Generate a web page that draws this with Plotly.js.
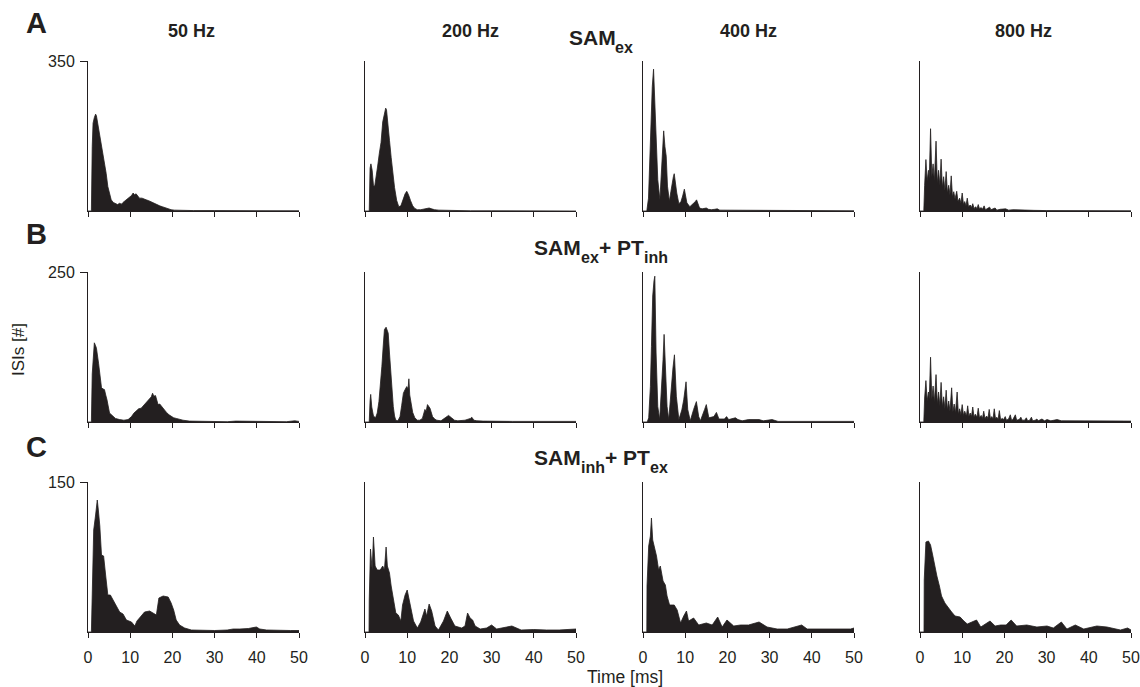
<!DOCTYPE html>
<html>
<head>
<meta charset="utf-8">
<script src="https://cdn.plot.ly/plotly-3.0.1.min.js"></script>
<style>html,body{margin:0;padding:0;background:#fff;}#chart{width:1140px;height:687px;}</style>
</head>
<body>
<div id="chart"></div>
<script>
// ---- data (ISI histograms, time in ms, counts) ----
const colTitles = ["50 Hz", "200 Hz", "400 Hz", "800 Hz"];
// row condition titles as [text, isSubscript] pieces
const rowTitles = [
  [["SAM", false], ["ex", true]],
  [["SAM", false], ["ex", true], ["+ PT", false], ["inh", true]],
  [["SAM", false], ["inh", true], ["+ PT", false], ["ex", true]]
];
const rowLetters = ["A", "B", "C"];
const rowMax = [350, 250, 150];
const xTicks = [0, 10, 20, 30, 40, 50];

const t_A50 = [0, 0.8, 1.0, 1.2, 1.5, 1.8, 2.0, 2.3, 2.8, 3.3, 3.9, 4.3, 4.7, 5.1, 5.5, 6.0, 6.5, 7.0, 7.5, 7.9, 8.3, 8.7, 9.2, 9.6, 9.9, 10.3, 10.7, 11.0, 11.4, 11.8, 12.2, 12.8, 13.3, 13.8, 14.4, 15.0, 15.4, 16.0, 16.5, 17.0, 17.6, 18.1, 18.6, 19.2, 19.7, 20.5, 22, 25, 30, 35, 40, 45, 50];
const n_A50 = [0, 0, 150, 205, 218, 226, 222, 205, 182, 150, 120, 88, 57, 38, 26, 20, 17, 15, 18, 16, 20, 23, 28, 32, 34, 36, 42, 38, 40, 35, 30, 30, 27, 26, 24, 21, 19, 17, 15, 12, 10, 8, 7, 5, 3, 2, 1.5, 1, 1, 0.5, 0.5, 0.5, 0.5];

const t_A200 = [0, 1.0, 1.2, 1.4, 1.7, 2.0, 2.3, 2.6, 3.0, 3.4, 3.8, 4.2, 4.6, 4.9, 5.1, 5.4, 5.8, 6.2, 6.6, 7.0, 7.5, 8.0, 8.5, 9.0, 9.5, 9.9, 10.3, 10.8, 11.3, 11.8, 12.4, 13.2, 14.0, 14.6, 15.2, 15.8, 16.5, 17.5, 19, 21, 23, 25, 30, 35, 40, 50];
const n_A200 = [0, 0, 100, 110, 95, 60, 58, 75, 105, 135, 160, 208, 225, 240, 236, 210, 165, 125, 85, 55, 25, 10, 12, 28, 40, 46, 38, 24, 12, 6, 3, 3, 5, 7, 7, 5, 3, 2, 1.5, 1, 1, 0.5, 0.5, 0, 0, 0];

const t_A400 = [0, 0.9, 1.3, 1.6, 1.9, 2.2, 2.5, 2.8, 3.2, 3.5, 4.0, 4.35, 4.6, 4.9, 5.2, 5.5, 5.8, 6.25, 6.6, 6.9, 7.2, 7.4, 7.7, 8.0, 8.5, 9.0, 9.4, 9.8, 10.1, 10.4, 11.1, 11.6, 12.0, 12.4, 12.7, 13.0, 13.4, 14.0, 14.6, 15.0, 15.5, 16.2, 17.0, 17.6, 18.2, 19.5, 20.5, 22, 25, 30, 35, 40, 45, 50];
const n_A400 = [0, 0, 30, 120, 197, 290, 331, 260, 166, 73, 26, 89, 140, 187, 150, 128, 58, 23, 45, 70, 80, 87, 60, 42, 17, 22, 35, 51, 35, 19, 10, 14, 17, 22, 26, 18, 7, 5, 6, 7, 4, 3, 4, 5, 2, 2, 2, 1, 1, 1, 0.5, 0.5, 0.5, 0.5];

const t_A800 = [0, 0.9, 1.1, 1.4, 1.7, 2.0, 2.2, 2.5, 2.8, 3.1, 3.4, 3.8, 4.1, 4.4, 4.7, 5.0, 5.3, 5.6, 5.9, 6.2, 6.5, 6.8, 7.1, 7.4, 7.7, 8.0, 8.3, 8.7, 9.0, 9.4, 9.7, 10.0, 10.3, 10.6, 10.9, 11.2, 11.5, 11.9, 12.2, 12.5, 12.8, 13.2, 13.5, 13.8, 14.1, 14.5, 14.8, 15.2, 15.5, 16.0, 16.5, 16.8, 17.3, 17.8, 18.2, 19.0, 20.3, 21.0, 22.0, 24.0, 27.0, 30.0, 35.0, 40.0, 45.0, 50.0];
const n_A800 = [0, 0, 60, 120, 70, 95, 75, 192, 80, 110, 70, 163, 65, 95, 60, 121, 55, 80, 48, 92, 42, 60, 38, 82, 33, 45, 28, 46, 22, 30, 18, 42, 15, 22, 12, 30, 10, 14, 8, 17, 6, 10, 5, 15, 5, 8, 4, 12, 3, 6, 9, 3, 5, 7, 2, 4, 5, 2, 3, 2, 1.5, 1, 0.8, 0.8, 0.5, 0.5];

const t_B50 = [0, 0.8, 1.0, 1.3, 1.5, 1.8, 2.0, 2.5, 2.9, 3.2, 3.6, 3.9, 4.2, 4.5, 5.1, 5.9, 6.5, 7.5, 8.5, 9.5, 10.3, 10.9, 11.5, 12.0, 12.6, 13.2, 13.8, 14.3, 14.6, 15.0, 15.3, 15.6, 16.0, 16.3, 16.6, 17.0, 17.4, 18.0, 18.6, 19.2, 19.7, 20.3, 20.9, 22.5, 24, 28, 33, 35, 37, 40, 42, 47, 49, 50];
const n_B50 = [0, 0, 80, 128, 132, 127, 123, 98, 75, 57, 55, 54, 45, 37, 15, 9, 6, 4, 3, 4, 9, 15, 19, 22, 23, 28, 32, 38, 40, 42, 48, 43, 44, 38, 29, 30, 26, 20, 16, 12, 9, 7, 6, 3, 1.5, 1, 0.5, 1.5, 1.5, 1, 0.5, 0.5, 2, 1];

const t_B200 = [0, 1.0, 1.2, 1.35, 1.6, 2.0, 2.5, 2.9, 3.3, 3.7, 4.0, 4.3, 4.6, 5.0, 5.5, 5.8, 6.1, 6.4, 6.7, 7.0, 7.3, 7.8, 8.3, 8.7, 9.1, 9.5, 9.9, 10.2, 10.4, 10.6, 10.9, 11.3, 11.8, 12.4, 13.0, 13.6, 14.2, 14.5, 14.8, 15.1, 15.4, 16.0, 16.5, 17.0, 18.0, 19.0, 19.8, 20.5, 21.2, 22.0, 23.7, 25.0, 25.3, 25.8, 26.5, 28, 30, 35, 40, 45, 50];
const n_B200 = [0, 0, 35, 46, 25, 10, 7, 15, 34, 62, 93, 125, 154, 158, 148, 115, 82, 55, 26, 10, 3, 2, 9, 28, 48, 54, 59, 55, 72, 45, 29, 16, 7, 3, 3, 6, 21, 18, 29, 25, 23, 9, 5, 3, 2, 7, 11, 7, 3, 2, 3, 6, 8, 3, 2, 1.5, 1, 1, 1, 1, 1];

const t_B400 = [0, 1.0, 1.35, 1.75, 2.0, 2.3, 2.6, 2.8, 3.1, 3.5, 3.95, 4.35, 4.75, 5.0, 5.3, 5.7, 6.1, 6.65, 7.1, 7.45, 7.9, 8.5, 9.2, 9.65, 10.2, 10.6, 11.2, 12.0, 12.65, 13.2, 13.6, 14.6, 15.0, 15.6, 16.8, 17.4, 18.0, 19.3, 19.8, 20.3, 21.9, 22.5, 23.5, 25, 27.5, 28.5, 30.6, 32, 35, 40, 45, 50];
const n_B400 = [0, 0, 7, 59, 126, 210, 235, 243, 115, 26, 4, 48, 104, 146, 104, 26, 4, 59, 90, 112, 43, 4, 20, 37, 67, 21, 2, 21, 34, 9, 2, 21, 29, 7, 9, 16, 5, 5, 9, 4, 7, 4, 2, 4, 4, 2, 4, 1, 1, 1, 1, 1];

const t_B800 = [0, 0.9, 1.1, 1.4, 1.7, 2.0, 2.2, 2.5, 2.8, 3.1, 3.4, 3.8, 4.1, 4.4, 4.7, 5.0, 5.3, 5.6, 5.9, 6.2, 6.5, 6.8, 7.1, 7.5, 7.8, 8.1, 8.4, 8.8, 9.1, 9.4, 9.7, 10.0, 10.3, 10.6, 11.0, 11.3, 11.6, 11.9, 12.2, 12.5, 12.8, 13.1, 13.5, 13.8, 14.1, 14.5, 14.8, 15.1, 15.4, 15.8, 16.1, 16.4, 16.7, 17.0, 17.3, 17.6, 17.9, 18.2, 18.5, 18.8, 19.1, 19.5, 19.8, 20.2, 20.5, 21.0, 21.4, 21.7, 22.0, 22.6, 22.9, 23.5, 23.9, 24.2, 24.8, 25.2, 25.5, 26.0, 26.4, 26.7, 27.3, 27.7, 28.0, 28.9, 29.5, 30.1, 31, 32.5, 33.5, 35, 37, 40, 42, 45, 48, 50];
const n_B800 = [0, 0, 40, 69, 35, 50, 38, 108, 38, 60, 33, 79, 30, 50, 27, 66, 25, 42, 22, 53, 20, 35, 18, 57, 17, 30, 15, 50, 13, 22, 12, 29, 11, 18, 10, 27, 9, 15, 9, 25, 8, 13, 8, 23, 7, 11, 6, 18, 6, 10, 6, 21, 5, 9, 5, 22, 5, 8, 4, 19, 4, 6, 4, 9, 3, 5, 12, 3, 4, 12, 3, 4, 8, 3, 3, 7, 2, 3, 8, 2, 3, 5, 2, 5, 2, 4, 2, 4, 2, 2, 2.5, 2, 2, 1.5, 2, 1.5];

const t_C50 = [0, 0.8, 1.0, 1.35, 1.8, 2.2, 2.45, 2.8, 3.2, 3.7, 4.2, 4.7, 5.3, 5.9, 6.7, 7.5, 8.3, 9.1, 10.3, 11.1, 11.6, 12.2, 13.4, 14.6, 15.6, 16.2, 16.8, 17.8, 19.0, 19.7, 20.3, 20.9, 21.7, 22.9, 24.5, 27, 30, 33, 34.4, 36, 38, 39.9, 40.7, 42.3, 45, 48, 50];
const n_C50 = [0, 0, 37, 102, 117, 132, 122, 106, 77, 76, 56, 37, 37, 32, 26, 20, 18, 12, 10, 6, 11, 14, 20, 21, 19, 17, 34, 36, 35, 29, 22, 12, 7, 4, 2, 1.5, 1.5, 2, 3, 3, 3.5, 5, 3, 2, 1.5, 1.5, 1.5];

const t_C200 = [0, 0.95, 1.0, 1.3, 1.7, 2.0, 2.4, 2.9, 3.6, 4.2, 4.6, 5.0, 5.3, 5.8, 6.2, 6.7, 7.3, 7.9, 8.5, 8.9, 9.5, 10.0, 10.7, 11.5, 12.4, 13.2, 14.2, 14.6, 15.2, 15.8, 16.6, 17.4, 18.6, 19.5, 20.3, 21.3, 22.9, 23.7, 24.3, 24.9, 25.5, 26.1, 27.3, 28.8, 30.0, 31.2, 33.6, 34.8, 37, 40, 43, 46, 50];
const n_C200 = [0, 0, 32, 83, 62, 95, 66, 62, 62, 66, 62, 85, 66, 59, 46, 32, 19, 17, 11, 27, 37, 42, 29, 11, 4, 10, 23, 16, 28, 21, 6, 2, 11, 21, 14, 6, 4, 6, 19, 14, 12, 6, 3, 4, 7, 3, 5, 6, 2, 2.5, 2, 2, 3];

const t_C400 = [0, 0.9, 0.95, 1.35, 1.75, 2.0, 2.3, 2.7, 3.2, 3.7, 4.1, 4.75, 5.3, 5.7, 6.3, 6.9, 7.4, 8.1, 8.9, 9.65, 10.3, 10.8, 12.0, 13.2, 15.0, 16.4, 17.7, 18.75, 19.9, 21.5, 23.1, 25.0, 27.5, 29.4, 31.8, 34.2, 37.6, 38.9, 42, 45.2, 49.2, 50];
const n_C400 = [0, 0, 46, 86, 96, 114, 92, 86, 76, 62, 66, 51, 47, 36, 27, 27, 27, 22, 9, 16, 21, 11, 14, 7, 9, 7, 15, 5, 12, 6, 7, 7, 10, 5, 3, 3, 7, 3, 3, 3, 3, 4];

const t_C800 = [0, 0.95, 1.0, 1.4, 2.0, 2.5, 3.0, 3.6, 4.0, 4.6, 5.1, 5.9, 6.7, 7.5, 8.3, 9.5, 10.4, 11.2, 12.3, 13.4, 14.4, 15.7, 16.6, 17.8, 19.1, 20.4, 21.6, 22.9, 25.3, 27.7, 30.1, 31.6, 33.5, 34.8, 36.8, 38.8, 41.9, 44.3, 47.5, 49.2, 50];
const n_C800 = [0, 0, 52, 90, 91, 87, 77, 62, 56, 46, 36, 29, 24, 20, 16, 15, 11, 8, 10, 12, 5, 9, 11, 6, 7, 7, 12, 6, 7, 5, 6, 4, 10, 3, 7, 3, 6, 5, 2, 4, 2];

const panels = [
  [[t_A50, n_A50], [t_A200, n_A200], [t_A400, n_A400], [t_A800, n_A800]],
  [[t_B50, n_B50], [t_B200, n_B200], [t_B400, n_B400], [t_B800, n_B800]],
  [[t_C50, n_C50], [t_C200, n_C200], [t_C400, n_C400], [t_C800, n_C800]]
];

// ---- layout geometry (pixels) ----
const W = 1140, H = 687;
const colLeft = [88, 365, 643, 920];
const colWidth = 211;
const rowBottom = [211, 422, 632];
const rowHeight = 150;
const ink = '#231f20';
const fontFam = 'Liberation Sans, Arial, Helvetica, sans-serif';

const traces = [];
const layout = {
  width: W, height: H,
  margin: {l: 0, r: 0, t: 0, b: 0},
  paper_bgcolor: '#ffffff', plot_bgcolor: 'rgba(0,0,0,0)',
  showlegend: false,
  font: {family: fontFam, color: ink, size: 15},
  annotations: []
};

for (let r = 0; r < 3; r++) {
  for (let c = 0; c < 4; c++) {
    const k = r * 4 + c + 1;
    const xa = 'xaxis' + (k === 1 ? '' : k);
    const ya = 'yaxis' + (k === 1 ? '' : k);
    const xr = 'x' + (k === 1 ? '' : k);
    const yr = 'y' + (k === 1 ? '' : k);
    const [tt, nn] = panels[r][c];
    traces.push({
      type: 'scatter', mode: 'lines', x: tt, y: nn,
      xaxis: xr, yaxis: yr, fill: 'tozeroy',
      fillcolor: ink, line: {color: ink, width: 0.8},
      hoverinfo: 'skip'
    });
    layout[xa] = {
      domain: [colLeft[c] / W, (colLeft[c] + colWidth) / W],
      range: [0, 50], anchor: yr,
      showgrid: false, zeroline: false,
      showline: true, linecolor: ink, linewidth: 1,
      tickvals: xTicks, ticktext: xTicks.map(String),
      ticks: 'outside', ticklen: 5, tickwidth: 1, tickcolor: ink,
      showticklabels: r === 2,
      ticklabelstandoff: 6,
      tickfont: {size: 16, color: ink, family: fontFam}
    };
    const yax = {
      domain: [(H - rowBottom[r]) / H, (H - rowBottom[r] + rowHeight) / H],
      range: [0, rowMax[r]], anchor: xr,
      showgrid: false, zeroline: false,
      showline: true, linecolor: ink, linewidth: 1,
      showticklabels: c === 0,
      tickfont: {size: 16, color: ink, family: fontFam}
    };
    if (c === 0) {
      yax.tickvals = [rowMax[r]];
      yax.ticktext = [String(rowMax[r])];
      yax.ticks = 'outside'; yax.ticklen = 7; yax.tickwidth = 1; yax.tickcolor = ink;
      yax.ticklabelstandoff = 2;
    } else {
      yax.ticks = '';
      yax.showticklabels = false;
    }
    layout[ya] = yax;
  }
}

// column titles
const colCenters = [191, 470, 748, 1023];
colTitles.forEach((txt, i) => {
  layout.annotations.push({
    text: '<b>' + txt + '</b>', xref: 'paper', yref: 'paper',
    x: colCenters[i] / W, y: 1 - 31 / H, xanchor: 'center', yanchor: 'middle',
    showarrow: false, font: {size: 18, color: ink, family: fontFam}
  });
});

// row condition titles, built piece by piece (main text + lowered subscripts)
const mainSize = 21, subSize = 16;
const ctx = document.createElement('canvas').getContext('2d');
function textW(s, size) {
  ctx.font = 'bold ' + size + 'px "Liberation Sans", Arial, sans-serif';
  return ctx.measureText(s).width;
}
const rowMainCenterY = [37.7, 247.7, 457.7];
const subDrop = 9.5;
rowTitles.forEach((pieces, i) => {
  const widths = pieces.map(p => textW(p[0], p[1] ? subSize : mainSize));
  const total = widths.reduce((a, b) => a + b, 0);
  let x = 600 - total / 2;
  pieces.forEach((p, j) => {
    const size = p[1] ? subSize : mainSize;
    const cy = p[1] ? rowMainCenterY[i] + subDrop : rowMainCenterY[i];
    layout.annotations.push({
      text: '<b>' + p[0] + '</b>', xref: 'paper', yref: 'paper',
      x: x / W, y: 1 - cy / H, xanchor: 'left', yanchor: 'middle',
      borderpad: 0, showarrow: false,
      font: {size: size, color: ink, family: fontFam}
    });
    x += widths[j];
  });
});

// panel letters
const letterY = [23, 234, 447];
rowLetters.forEach((txt, i) => {
  layout.annotations.push({
    text: '<b>' + txt + '</b>', xref: 'paper', yref: 'paper',
    x: 36 / W, y: 1 - letterY[i] / H, xanchor: 'center', yanchor: 'middle',
    showarrow: false, font: {size: 29, color: ink, family: fontFam}
  });
});

// axis titles
layout.annotations.push({
  text: 'ISIs [#]', xref: 'paper', yref: 'paper',
  x: 18 / W, y: 1 - 350 / H, xanchor: 'center', yanchor: 'middle',
  textangle: -90, showarrow: false, font: {size: 17, color: ink, family: fontFam}
});
layout.annotations.push({
  text: 'Time [ms]', xref: 'paper', yref: 'paper',
  x: 625 / W, y: 1 - 677 / H, xanchor: 'center', yanchor: 'middle',
  showarrow: false, font: {size: 17.5, color: ink, family: fontFam}
});

Plotly.newPlot('chart', traces, layout, {staticPlot: true, displayModeBar: false});
</script>
</body>
</html>
